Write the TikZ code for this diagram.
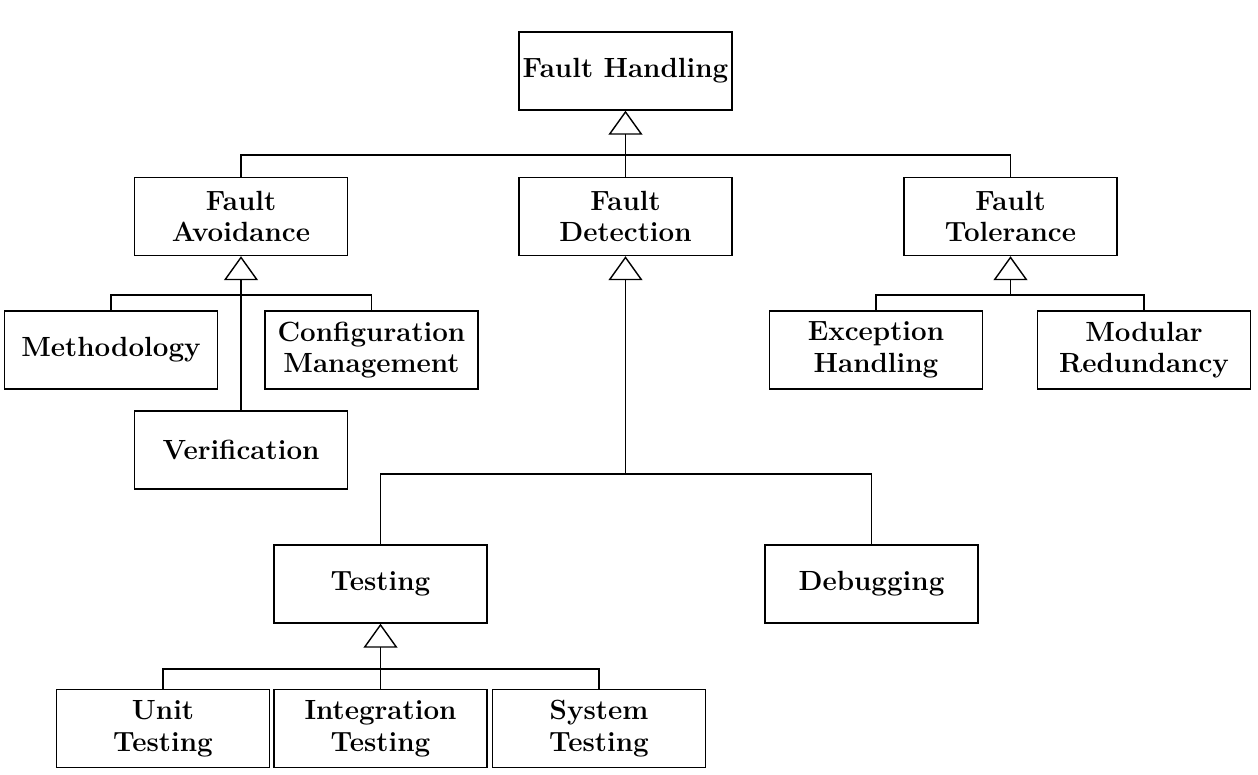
\documentclass[tikz,border=0pt]{standalone}
\usepackage{fontspec}
\usepackage{tikz}
\usetikzlibrary{arrows.meta}
\usetikzlibrary{positioning}
\tikzset{box/.style = {draw, line width = 0.8pt, minimum width = 4.26cm, minimum height = 1.56cm,
                       align = center, inner sep = 0pt,
                       font = \fontsize{15.8}{18}\selectfont\bfseries},
         gen/.style = {line width = 0.8pt,
                       -{Triangle[open, width = 0.68cm, length = 0.48cm, line width = 0.8pt]}}}

\begin{document}
\begin{tikzpicture}[line width = 0.8pt]
      \useasboundingbox (0, 0) rectangle (25.16, -15.5);

      \node [box] (fh) at (12.51, -1.42) {Fault Handling};
      \node [box] (fa) at (4.82, -4.33) {Fault\\Avoidance};
      \node [box] (fd) at (12.51, -4.33) {Fault\\Detection};
      \node [box] (ft) at (20.21, -4.33) {Fault\\Tolerance};

      \node [box] (meth) at (2.22, -7.0) {Methodology};
      \node [box] (conf) at (7.43, -7.0) {Configuration\\Management};
      \node [box] (verif) at (4.82, -9.0) {Verification};
      \node [box] (exh) at (17.52, -7.0) {Exception\\Handling};
      \node [box] (modr) at (22.88, -7.0) {Modular\\Redundancy};

      \node [box] (test) at (7.61, -11.68) {Testing};
      \node [box] (debug) at (17.43, -11.68) {Debugging};

      \node [box] (unit) at (3.26, -14.57) {Unit\\Testing};
      \node [box] (integ) at (7.61, -14.57) {Integration\\Testing};
      \node [box] (sys) at (11.98, -14.57) {System\\Testing};

      \coordinate (fhbar) at (12.51, -3.10);
      \coordinate (fabar) at (4.82, -5.90);
      \coordinate (ftbar) at (20.21, -5.90);
      \coordinate (fdbar) at (12.51, -9.48);
      \coordinate (testbar) at (7.61, -13.38);

      \draw [gen] (fd.north) -- (fh.south);
      \draw (fa.north) |- (fhbar) -| (ft.north);

      \draw [gen] (verif.north) -- (fa.south);
      \draw (meth.north) |- (fabar) -| (conf.north);

      \draw [gen] (ftbar) -- (ft.south);
      \draw (exh.north) |- (ftbar) -| (modr.north);

      \draw [gen] (fdbar) -- (fd.south);
      \draw (test.north) |- (fdbar) -| (debug.north);

      \draw [gen] (integ.north) -- (test.south);
      \draw (unit.north) |- (testbar) -| (sys.north);
    \end{tikzpicture}
\end{document}
